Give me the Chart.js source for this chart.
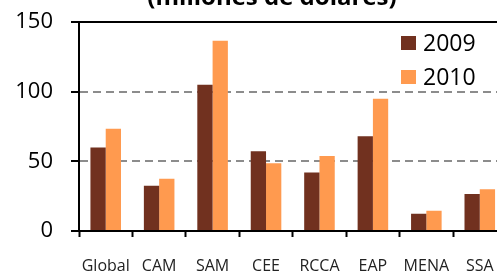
<!DOCTYPE html>
<html>
<head>
<meta charset="utf-8">
<script src="https://cdn.jsdelivr.net/npm/chart.js@4.4.1/dist/chart.umd.min.js"></script>
<style>
  html, body { margin: 0; padding: 0; background: #fff; overflow: hidden; }
  #wrap { width: 497px; height: 273px; overflow: hidden; position: relative; }
  #box { width: 520px; height: 273px; position: absolute; left: 0; top: 0; }
</style>
</head>
<body>
<div id="wrap"><div id="box"><canvas id="chart"></canvas></div></div>
<script>
  /* ---- data ---------------------------------------------------- */
  const regions   = ["Global", "CAM", "SAM", "CEE", "RCCA", "EAP", "MENA", "SSA"];
  const years     = ["2009", "2010"];
  const vals2009  = [60, 32.5, 105, 57.2, 42, 68, 12.3, 26.5];
  const vals2010  = [73.3, 37.5, 136.5, 48.7, 53.8, 95, 14.6, 30];
  const yTicks    = [0, 50, 100, 150];
  const titleText = "(millones de dólares)";

  const C_2009 = "#71311F";
  const C_2010 = "#FF9A4F";
  const FONT   = "'Open Sans', sans-serif";

  /* ---- cropped title above the plot ---------------------------- */
  const titlePlugin = {
    id: "cutTitle",
    afterDraw(chart) {
      const ctx = chart.ctx;
      ctx.save();
      ctx.font = "bold 24px " + FONT;
      ctx.fillStyle = "#000";
      ctx.textAlign = "center";
      ctx.textBaseline = "alphabetic";
      ctx.fillText(titleText, 272, 5);
      ctx.restore();
    }
  };

  /* ---- legend in the upper right of the plot ------------------- */
  const legendPlugin = {
    id: "boxLegend",
    afterDraw(chart) {
      const ctx = chart.ctx;
      ctx.save();
      ctx.font = "23px " + FONT;
      ctx.textBaseline = "middle";
      chart.data.datasets.forEach((ds, i) => {
        const y = 43 + i * 34;
        ctx.fillStyle = ds.backgroundColor;
        ctx.fillRect(401, y - 7, 15, 14);
        ctx.fillStyle = "#000";
        ctx.fillText(ds.label, 423, y + 1);
      });
      ctx.restore();
    }
  };

  new Chart(document.getElementById("chart"), {
    type: "bar",
    data: {
      labels: regions,
      datasets: [
        { label: years[0], data: vals2009, backgroundColor: C_2009 },
        { label: years[1], data: vals2010, backgroundColor: C_2010 },
      ],
    },
    options: {
      responsive: true,
      maintainAspectRatio: false,
      animation: false,
      layout: { padding: { left: 0, right: 13.5, top: 22, bottom: 0 } },
      datasets: { bar: { categoryPercentage: 0.572, barPercentage: 1 } },
      plugins: {
        legend: { display: false },
        title: { display: false },
        tooltip: { enabled: false },
      },
      scales: {
        x: {
          afterFit: (s) => { s.height = 42; },
          grid: {
            drawOnChartArea: false,
            tickLength: 6,
            tickColor: "#000",
            tickWidth: 2,
          },
          border: { color: "#000", width: 2 },
          ticks: {
            color: "#222",
            padding: 20,
            font: { family: FONT, size: 16 },
            maxRotation: 0,
            autoSkip: false,
          },
        },
        y: {
          min: 0,
          max: 150,
          afterFit: (s) => { s.width = 79; },
          afterBuildTicks: (s) => { s.ticks = yTicks.map((v) => ({ value: v })); },
          grid: {
            color: (c) => c.tick && c.tick.value === 150 ? "#000"
                        : c.tick && c.tick.value === 0 ? "rgba(0,0,0,0)" : "#8c8c8c",
            lineWidth: 2,
            tickLength: 8,
            tickColor: "#000",
            tickWidth: 2,
            tickBorderDash: [],
          },
          border: {
            color: "#000",
            width: 2,
            dash: (c) => c.tick && c.tick.value !== 150 ? [8, 5] : [],
          },
          ticks: {
            color: "#000",
            padding: 18,
            font: { family: FONT, size: 22, lineHeight: 0.3 },
          },
        },
      },
    },
    plugins: [titlePlugin, legendPlugin],
  });
</script>
</body>
</html>
